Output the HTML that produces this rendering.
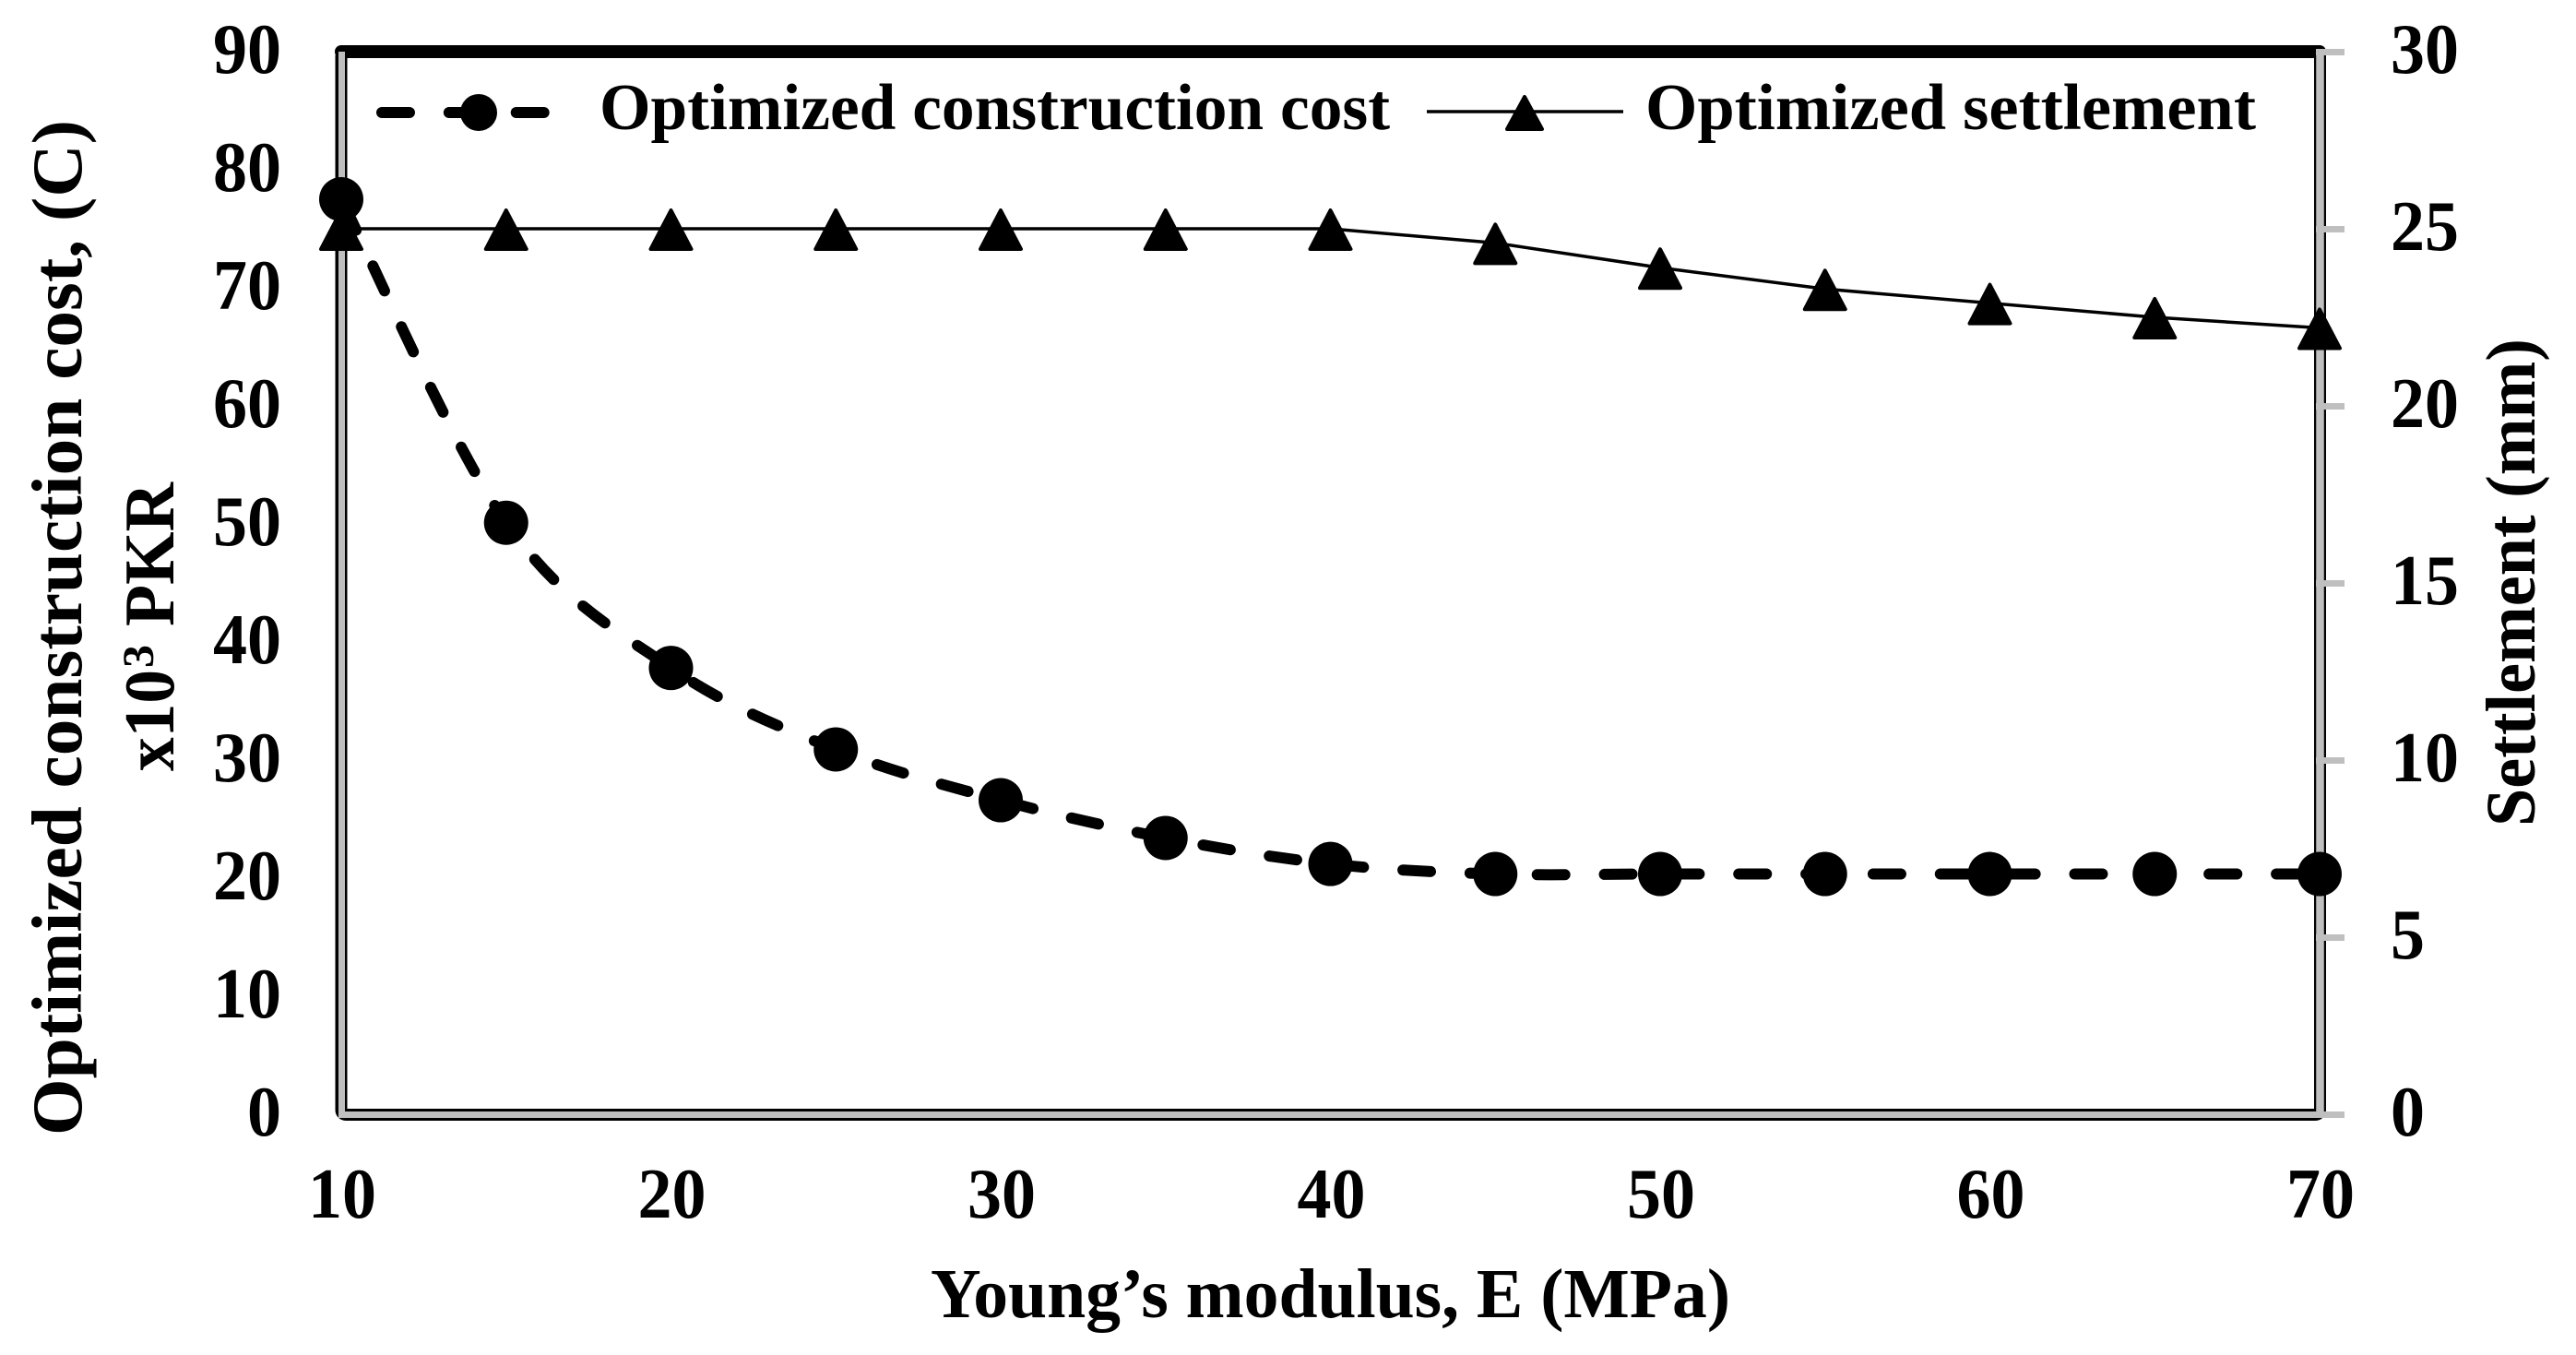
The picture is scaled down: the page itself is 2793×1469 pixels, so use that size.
<!DOCTYPE html>
<html lang="en">
<head>
<meta charset="utf-8">
<title>Optimized construction cost and settlement vs Young's modulus</title>
<style>
html,body{margin:0;padding:0;background:#fff;width:2793px;height:1469px;overflow:hidden}
svg{display:block}
text{font-family:"Liberation Serif",serif;font-weight:700;fill:#000}
</style>
</head>
<body>
<svg id="chart" xmlns="http://www.w3.org/2000/svg" width="2793" height="1469" viewBox="0 0 2793 1469">
  <rect x="0" y="0" width="2793" height="1469" fill="#fff"/>
  <g id="frame">
    <rect x="370" y="56" width="2145.5" height="1152.5" rx="5" fill="none" stroke="#000" stroke-width="13"/>
    <line x1="370" y1="56" x2="2515" y2="56" stroke="#000" stroke-width="14" stroke-linecap="round"/>
    <line x1="370.5" y1="56" x2="370.5" y2="1208.5" stroke="#BFBFBF" stroke-width="7"/>
    <line x1="367" y1="1208.5" x2="2519" y2="1208.5" stroke="#BFBFBF" stroke-width="7"/>
    <line x1="2515.5" y1="56" x2="2515.5" y2="1208.5" stroke="#BFBFBF" stroke-width="8.5"/>
  </g>
  <g id="right-ticks"></g>
  <g id="left-labels"></g>
  <g id="right-labels"></g>
  <g id="x-labels"></g>
  <g id="series-settlement"></g>
  <g id="series-cost"></g>

  <g>
    <path d="M414 122H591" fill="none" stroke="#000" stroke-width="12" stroke-linecap="round" stroke-dasharray="30 42.85"/>
    <circle cx="519" cy="122" r="20" fill="#000"/>
    <text x="650" y="140" font-size="71" textLength="857" lengthAdjust="spacingAndGlyphs">Optimized construction cost</text>
    <line x1="1547" y1="121" x2="1760" y2="121" stroke="#000" stroke-width="3.5"/>
    <path d="M1653 105L1672 140H1634Z" fill="#000" stroke="#000" stroke-width="4" stroke-linejoin="round"/>
    <text x="1784" y="140" font-size="71" textLength="662" lengthAdjust="spacingAndGlyphs">Optimized settlement</text>
  </g>

  <text x="1009" y="1428" font-size="76" textLength="867" lengthAdjust="spacingAndGlyphs">Young’s modulus, E (MPa)</text>
  <g>
    <text transform="translate(88 1231) rotate(-90)" font-size="77" textLength="1101" lengthAdjust="spacingAndGlyphs">Optimized construction cost, (C)</text>
    <text transform="translate(188 836) rotate(-90)" font-size="77" textLength="110" lengthAdjust="spacingAndGlyphs">x10</text>
    <text transform="translate(166 724) rotate(-90)" font-size="48" textLength="25" lengthAdjust="spacingAndGlyphs">3</text>
    <text transform="translate(188 679) rotate(-90)" font-size="77" textLength="156" lengthAdjust="spacingAndGlyphs">PKR</text>
  </g>
  <text transform="translate(2748 896) rotate(-90)" font-size="76" textLength="529" lengthAdjust="spacingAndGlyphs">Settlement (mm)</text>
</svg>
<script>
const modulusValues = [10, 15, 20, 25, 30, 35, 40, 45, 50, 55, 60, 65, 70];
const costValues = [77.5, 50.1, 37.8, 30.9, 26.6, 23.4, 21.2, 20.35, 20.35, 20.35, 20.35, 20.35, 20.35];
const settlementValues = [25, 25, 25, 25, 25, 25, 25, 24.6, 23.9, 23.3, 22.9, 22.5, 22.2];
const leftTickLabels = [0, 10, 20, 30, 40, 50, 60, 70, 80, 90];
const rightTickLabels = [0, 5, 10, 15, 20, 25, 30];
const xTickLabels = [10, 20, 30, 40, 50, 60, 70];

const NS = 'http://www.w3.org/2000/svg';
const plotLeft = 370, plotRight = 2515, plotTop = 56, plotBottom = 1208;
function xScale(v) { return plotLeft + (v - 10) / 60 * (plotRight - plotLeft); }
function yLeft(v) { return plotBottom - v / 90 * (plotBottom - plotTop); }
function yRight(v) { return plotBottom - v / 30 * (plotBottom - plotTop); }
function make(tag, parentId) {
  const el = document.createElementNS(NS, tag);
  document.getElementById(parentId).appendChild(el);
  return el;
}
function setAll(el, props) {
  Object.keys(props).forEach(function (k) { el.setAttribute(k, props[k]); });
}
function tickText(parentId, label, props) {
  const t = make('text', parentId);
  setAll(t, props);
  t.setAttribute('font-size', '77');
  t.setAttribute('lengthAdjust', 'spacingAndGlyphs');
  t.setAttribute('textLength', String(label).length * 37);
  t.textContent = label;
  return t;
}

leftTickLabels.forEach(function (v) {
  const t = tickText('left-labels', v, { x: 305, y: yLeft(v) + 23, 'text-anchor': 'end' });
  
  
});

rightTickLabels.forEach(function (v) {
  const t = tickText('right-labels', v, { x: 2592, y: yRight(v) + 23 });
  
  
  const tick = make('line', 'right-ticks');
  setAll(tick, { x1: 2511, x2: 2542, y1: yRight(v) + 0.5, y2: yRight(v) + 0.5, stroke: '#BFBFBF', 'stroke-width': 7 });
  
  
});

xTickLabels.forEach(function (v) {
  const t = tickText('x-labels', v, { x: xScale(v) + 1, y: 1320, 'text-anchor': 'middle' });
  
  
});

/* settlement: thin straight line with triangle markers */
const settlementPoints = modulusValues.map(function (m, i) { return [xScale(m), yRight(settlementValues[i])]; });
const settlementLine = make('polyline', 'series-settlement');
settlementLine.setAttribute('points', settlementPoints.map(function (p) { return p.join(','); }).join(' '));
setAll(settlementLine, { fill: 'none', stroke: '#000', 'stroke-width': 3.5 });


settlementPoints.forEach(function (p, i) {
  const tri = make('path', 'series-settlement');
  tri.setAttribute('d', 'M' + p[0] + ' ' + (p[1] - 20) + 'L' + (p[0] + 22) + ' ' + (p[1] + 22) + 'H' + (p[0] - 22) + 'Z');
  setAll(tri, { fill: '#000', stroke: '#000', 'stroke-width': 4, 'stroke-linejoin': 'round' });
  
  
});

/* cost: smoothed dashed line with circle markers */
const costPoints = modulusValues.map(function (m, i) { return [xScale(m), yLeft(costValues[i])]; });
let costPath = 'M' + costPoints[0][0] + ' ' + costPoints[0][1];
for (let i = 0; i < costPoints.length - 1; i++) {
  const p0 = costPoints[Math.max(0, i - 1)], p1 = costPoints[i], p2 = costPoints[i + 1], p3 = costPoints[Math.min(costPoints.length - 1, i + 2)];
  costPath += 'C' + (p1[0] + (p2[0] - p0[0]) / 6) + ' ' + (p1[1] + (p2[1] - p0[1]) / 6) + ' ' +
    (p2[0] - (p3[0] - p1[0]) / 6) + ' ' + (p2[1] - (p3[1] - p1[1]) / 6) + ' ' + p2[0] + ' ' + p2[1];
}
const costLine = make('path', 'series-cost');
costLine.setAttribute('d', costPath);
setAll(costLine, { fill: 'none', stroke: '#000', 'stroke-width': 12, 'stroke-linecap': 'round', 'stroke-dasharray': '30 42.85' });
const dashPeriod = 72.85;
const dashAnchor = costLine.getTotalLength() - 47;
costLine.setAttribute('stroke-dashoffset', dashPeriod - (dashAnchor % dashPeriod));


costPoints.forEach(function (p, i) {
  const c = make('circle', 'series-cost');
  setAll(c, { cx: p[0], cy: p[1], r: 24, fill: '#000' });
  
  
});
</script>
</body>
</html>
